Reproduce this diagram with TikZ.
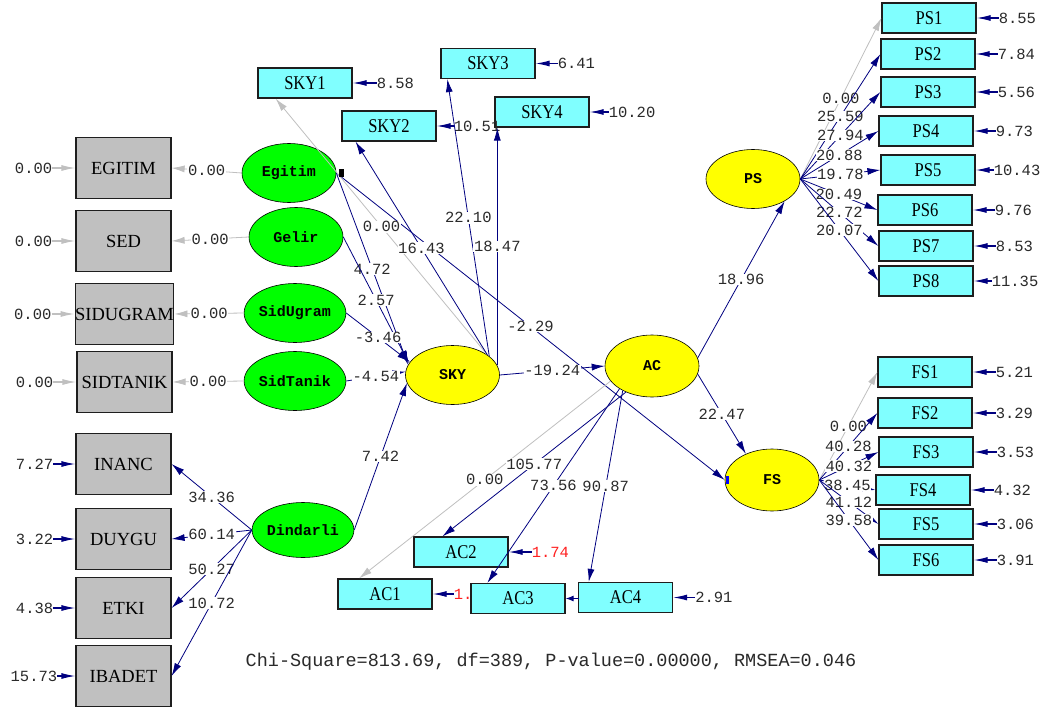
\documentclass[tikz,border=0pt]{standalone}
\usepackage{fontspec}
\usetikzlibrary{arrows.meta,positioning,shapes.geometric}
\newfontfamily\numfont{Liberation Mono}
\newfontfamily\obsfont[FakeStretch=0.85]{Liberation Serif}
\newfontfamily\xobsfont{Liberation Serif}
\definecolor{lisnavy}{HTML}{000080}
\definecolor{lisgray}{HTML}{C0C0C0}
\definecolor{lisedge}{HTML}{1E1E1E}
\definecolor{liscyan}{HTML}{80FFFF}
\definecolor{lisyellow}{HTML}{FFFF00}
\definecolor{lisgreen}{HTML}{00FF00}
\definecolor{lisred}{HTML}{FF2020}
\definecolor{listext}{HTML}{2A2A2A}

\begin{document}
\begin{tikzpicture}[
  x=1pt,
  y=-1pt,
  every node/.style={inner sep=0pt},
  num/.style={font=\numfont\fontsize{15.5}{16}\selectfont, text=listext, fill=white, inner sep=0.6pt},
  errnum/.style={font=\numfont\fontsize{15.5}{16}\selectfont, text=listext},
  xbox/.style={draw=lisedge, line width=1.2pt, fill=lisgray, minimum width=95pt, minimum height=61pt,
    font=\xobsfont\fontsize{18.5}{20}\selectfont},
  ybox/.style={draw=lisedge, line width=1.2pt, fill=liscyan, minimum width=94pt, minimum height=30pt,
    font=\obsfont\fontsize{19.5}{20}\selectfont},
  ksi/.style={ellipse, draw=black, line width=0.6pt, fill=lisgreen, minimum width=94pt, minimum height=59pt,
    font=\numfont\bfseries\fontsize{15}{16}\selectfont},
  eta/.style={ksi, fill=lisyellow},
  coef/.style={lisnavy, line width=0.8pt, -{Latex[length=13pt,width=7pt]}},
  fixed/.style={lisgray, line width=0.8pt, -{Latex[length=13pt,width=7pt]}},
  err/.style={lisnavy, line width=1.2pt, -{Latex[length=14pt,width=6pt]}},
  errfix/.style={err, lisgray}
]
  % ---- page, same size as the LISREL window ----------------------------
  \path[fill=white, use as bounding box] (0,0) rectangle (1060,712);

  % ---- observed x-variables (grey) --------------------------------------
  \node[xbox] (x-egitim)   at (123.5,168) {EGITIM};
  \node[xbox] (x-sed)      at (123.5,241) {SED};
  \node[xbox] (x-sidugram) at (124.5,314) {SIDUGRAM};
  \node[xbox] (x-sidtanik) at (124.5,382) {SIDTANIK};
  \node[xbox] (x-inanc)    at (123.5,464) {INANC};
  \node[xbox] (x-duygu)    at (123.5,539) {DUYGU};
  \node[xbox] (x-etki)     at (123.5,608) {ETKI};
  \node[xbox] (x-ibadet)   at (123.5,676) {IBADET};

  % ---- exogenous latents ------------------------------------------------
  \node[ksi] (egitim)   at (289,173) {Egitim};
  \node[ksi] (gelir)    at (296,237) {Gelir};
  \node[ksi] (sidugram) at (295,313) {SidUgram};
  \node[ksi] (sidtanik) at (295,381) {SidTanik};
  \node[ksi, minimum height=55pt] (dindarli) at (303,530) {Dindarli};

  % ---- endogenous latents -----------------------------------------------
  \node[eta] (sky) at (452.5,375) {SKY};
  \node[eta, minimum height=62pt] (ac) at (652,366) {AC};
  \node[eta, minimum height=62pt] (fs) at (772,480) {FS};
  \node[eta] (ps) at (753,179) {PS};

  % ---- observed y-variables (cyan) --------------------------------------
  \node[ybox] (sky1) at (305,83) {SKY1};
  \node[ybox] (sky2) at (389,126) {SKY2};
  \node[ybox] (sky3) at (488,63.5) {SKY3};
  \node[ybox] (sky4) at (542,112) {SKY4};
  \node[ybox] (ps1) at (929,18) {PS1};
  \node[ybox] (ps2) at (928,54) {PS2};
  \node[ybox] (ps3) at (928,92) {PS3};
  \node[ybox] (ps4) at (926,131) {PS4};
  \node[ybox] (ps5) at (928,170) {PS5};
  \node[ybox] (ps6) at (925,210) {PS6};
  \node[ybox] (ps7) at (926,246) {PS7};
  \node[ybox] (ps8) at (926,281) {PS8};
  \node[ybox] (fs1) at (925,372) {FS1};
  \node[ybox] (fs2) at (925,413) {FS2};
  \node[ybox] (fs3) at (926,452) {FS3};
  \node[ybox] (fs4) at (923,490) {FS4};
  \node[ybox] (fs5) at (926,524) {FS5};
  \node[ybox] (fs6) at (926,560) {FS6};
  \node[ybox] (ac1) at (385,594) {AC1};
  \node[ybox] (ac2) at (461,552) {AC2};
  \node[ybox] (ac3) at (518,598.5) {AC3};
  \node[ybox] (ac4) at (625.5,597.5) {AC4};

  % ---- error variances, left side ---------------------------------------
  \node[errnum, left=23pt of x-egitim]   (d-egitim)   {0.00};
  \node[errnum, left=23pt of x-sed]      (d-sed)      {0.00};
  \node[errnum, left=23pt of x-sidugram] (d-sidugram) {0.00};
  \node[errnum, left=23pt of x-sidtanik] (d-sidtanik) {0.00};
  \node[errnum, left=22pt of x-inanc]    (d-inanc)    {7.27};
  \node[errnum, left=22pt of x-duygu]    (d-duygu)    {3.22};
  \node[errnum, left=22pt of x-etki]     (d-etki)     {4.38};
  \node[errnum, left=18pt of x-ibadet]   (d-ibadet)   {15.73};
  \draw[errfix] (d-egitim) -- (x-egitim);
  \draw[errfix] (d-sed) -- (x-sed);
  \draw[errfix] (d-sidugram) -- (x-sidugram);
  \draw[errfix] (d-sidtanik) -- (x-sidtanik);
  \draw[err] (d-inanc) -- (x-inanc);
  \draw[err] (d-duygu) -- (x-duygu);
  \draw[err] (d-etki) -- (x-etki);
  \draw[err] (d-ibadet) -- (x-ibadet);

  % ---- error variances, right side --------------------------------------
  \node[errnum, right=24pt of sky1] (d-sky1) {8.58};
  \node[errnum, right=17pt of sky2] (d-sky2) {10.51};
  \node[errnum, right=22pt of sky3] (d-sky3) {6.41};
  \node[errnum, right=19pt of sky4] (d-sky4) {10.20};
  \node[errnum, right=22pt of ps1] (d-ps1) {8.55};
  \node[errnum, right=22pt of ps2] (d-ps2) {7.84};
  \node[errnum, right=22pt of ps3] (d-ps3) {5.56};
  \node[errnum, right=22pt of ps4] (d-ps4) {9.73};
  \node[errnum, right=18pt of ps5] (d-ps5) {10.43};
  \node[errnum, right=22pt of ps6] (d-ps6) {9.76};
  \node[errnum, right=22pt of ps7] (d-ps7) {8.53};
  \node[errnum, right=18pt of ps8] (d-ps8) {11.35};
  \node[errnum, right=23pt of fs1] (d-fs1) {5.21};
  \node[errnum, right=23pt of fs2] (d-fs2) {3.29};
  \node[errnum, right=23pt of fs3] (d-fs3) {3.53};
  \node[errnum, right=23pt of fs4] (d-fs4) {4.32};
  \node[errnum, right=23pt of fs5] (d-fs5) {3.06};
  \node[errnum, right=23pt of fs6] (d-fs6) {3.91};
  \node[errnum, text=lisred, right=21pt of ac1] (d-ac1) {1.};
  \node[errnum, text=lisred, right=23pt of ac2] (d-ac2) {1.74};
  \coordinate[right=13pt of ac3] (d-ac3);
  \node[errnum, right=22pt of ac4] (d-ac4) {2.91};
  \foreach \v in {sky1,sky2,sky3,sky4,ps1,ps2,ps3,ps4,ps5,ps6,ps7,ps8,
                  fs1,fs2,fs3,fs4,fs5,fs6,ac1,ac2,ac4}
    \draw[err] (d-\v) -- (\v);
  \draw[err, -{Latex[length=8pt,width=6pt]}] (d-ac3) -- (ac3);

  % ---- fixed x-loadings -------------------------------------------------
  \draw[fixed] (egitim.west) -- node[num, midway] {0.00} (x-egitim.east);
  \draw[fixed] (gelir.west) -- node[num, midway] {0.00} (x-sed.east);
  \draw[fixed] (sidugram.west) -- node[num, midway] {0.00} (x-sidugram.east);
  \draw[fixed] (sidtanik.west) -- node[num, midway] {0.00} (x-sidtanik.east);

  % ---- Dindarli loadings ------------------------------------------------
  \draw[coef] (dindarli.west) -- node[num, midway] {34.36} (x-inanc.east);
  \draw[coef] (dindarli.west) -- node[num, midway] {60.14} (x-duygu.east);
  \draw[coef] (dindarli.west) -- node[num, midway] {50.27} (x-etki.east);
  \draw[coef] (dindarli.west) -- node[num, midway] {10.72} (x-ibadet.east);

  % ---- structural paths -------------------------------------------------
  \draw[coef] (egitim.east) -- node[num, midway] {4.72} (sky.167);
  \draw[coef] (gelir.east) -- node[num, midway] {2.57} (sky.165);
  \draw[coef] (sidugram.east) -- node[num, midway] {-3.46} (sky.163);
  \draw[coef] (sidtanik.east) -- node[num, midway] {-4.54} (sky.176);
  \draw[coef] (dindarli.east) -- node[num, midway] {7.42} (sky.190);
  \draw[coef] (egitim.east) -- node[num, midway] {-2.29} (fs.west);
  \draw[coef] (sky.east) -- node[num, midway] {-19.24} (ac.west);
  \draw[coef] (ac.10) -- node[num, midway] {18.96} (ps.-35);
  \draw[coef] (ac.-10) -- node[num, midway] {22.47} (fs.135);

  % ---- SKY loadings -----------------------------------------------------
  \draw[fixed] (sky.30) -- node[num, midway] {0.00} (sky1.208);
  \draw[coef] (sky.30) -- node[num, midway] {16.43} (sky2.205);
  \draw[coef] (sky.27) -- node[num, midway] {22.10} (sky3.201);
  \draw[coef] (sky.12) -- node[num, midway] {18.47} (sky.12 |- sky4.south);

  % ---- AC loadings ------------------------------------------------------
  \draw[fixed] (ac.200) -- node[num, midway] {0.00} (ac1.149);
  \draw[coef] (ac.225) -- node[num, midway] {105.77} (ac2.140);
  \draw[coef] (ac.215) -- node[num, midway] {73.56} (ac3.153);
  \draw[coef] (ac.220) -- node[num, midway] {90.87} (ac4.157);

  % ---- PS loadings ------------------------------------------------------
  \draw[fixed] (ps.east) -- node[num, midway] {0.00} (ps1.west);
  \draw[coef] (ps.east) -- node[num, midway] {25.59} (ps2.west);
  \draw[coef] (ps.east) -- node[num, midway] {27.94} (ps3.west);
  \draw[coef] (ps.east) -- node[num, midway] {20.88} (ps4.west);
  \draw[coef] (ps.east) -- node[num, midway] {19.78} (ps5.west);
  \draw[coef] (ps.east) -- node[num, midway] {20.49} (ps6.west);
  \draw[coef] (ps.east) -- node[num, midway] {22.72} (ps7.west);
  \draw[coef] (ps.east) -- node[num, midway] {20.07} (ps8.west);

  % ---- FS loadings ------------------------------------------------------
  \draw[fixed] (fs.east) -- node[num, midway] {0.00} (fs1.west);
  \draw[coef] (fs.east) -- node[num, midway] {40.28} (fs2.west);
  \draw[coef] (fs.east) -- node[num, midway] {40.32} (fs3.west);
  \draw[coef] (fs.east) -- node[num, midway] {38.45} (fs4.west);
  \draw[coef] (fs.east) -- node[num, midway] {41.12} (fs5.west);
  \draw[coef] (fs.east) -- node[num, midway] {39.58} (fs6.west);

  % ---- selection marks left by the editor -------------------------------
  \fill[black] (egitim.east) ++(3,-4) rectangle ++(5,8);
  \fill[blue] (fs.west) ++(1,-4) rectangle ++(3,8);

  % ---- fit statistics ---------------------------------------------------
  \node[font=\numfont\fontsize{18.5}{20}\selectfont, text=listext] (fit) at (551,662)
    {Chi-Square=813.69, df=389, P-value=0.00000, RMSEA=0.046};
\end{tikzpicture}
\end{document}
